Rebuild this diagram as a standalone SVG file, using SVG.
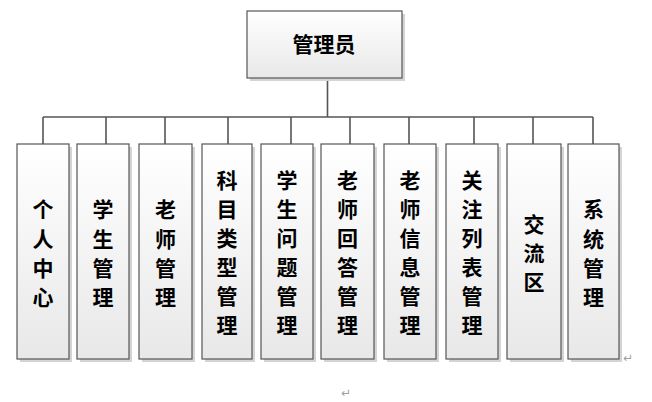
<svg xmlns="http://www.w3.org/2000/svg" width="652" height="402" viewBox="0 0 652 402">
<defs>
<linearGradient id="g" x1="0" y1="0" x2="0" y2="1">
<stop offset="0" stop-color="#ffffff"/>
<stop offset="1" stop-color="#e8e8e8"/>
</linearGradient>
<style>
.box{fill:url(#g);stroke:#555;stroke-width:1.2}
.sh{fill:#d4d4d4}
.t{font-family:"Noto Sans CJK SC","Noto Sans CJK JP",sans-serif;font-weight:bold;font-size:21px;fill:#000;text-anchor:middle;dominant-baseline:central}
.c{fill:none;stroke:#555;stroke-width:1.6}
.m{font-family:"DejaVu Sans",sans-serif;font-size:12px;fill:#a0a0a0}
</style>
</defs>
<rect width="652" height="402" fill="#fff"/>
<g id="connectors">
<path class="c" d="M327.5 78V117M43 117H593M43 117V144M106 117V144M165 117V144M228 117V144M291 117V144M350 117V144M409 117V144M474 117V144M533 117V144M593 117V144"/>
</g>
<g id="root">
<rect class="sh" x="250" y="14" width="155" height="67"/>
<rect class="box" x="247" y="11" width="155" height="67"/>
<text class="t" x="324" y="43" font-size="22">管理员</text>
</g>
<g id="n1">
<rect class="sh" x="20" y="147" width="52" height="215"/>
<rect class="box" x="17" y="144" width="52" height="215"/>
<text class="t" x="43"><tspan x="43" y="208">个</tspan><tspan x="43" y="237.5">人</tspan><tspan x="43" y="267">中</tspan><tspan x="43" y="296">心</tspan></text>
</g>
<g id="n2">
<rect class="sh" x="80" y="147" width="52" height="215"/>
<rect class="box" x="77" y="144" width="52" height="215"/>
<text class="t"><tspan x="103" y="208">学</tspan><tspan x="103" y="237.5">生</tspan><tspan x="103" y="267">管</tspan><tspan x="103" y="296">理</tspan></text>
</g>
<g id="n3">
<rect class="sh" x="142" y="147" width="53" height="215"/>
<rect class="box" x="139" y="144" width="53" height="215"/>
<text class="t"><tspan x="165.5" y="208">老</tspan><tspan x="165.5" y="237.5">师</tspan><tspan x="165.5" y="267">管</tspan><tspan x="165.5" y="296">理</tspan></text>
</g>
<g id="n4">
<rect class="sh" x="205" y="147" width="50" height="215"/>
<rect class="box" x="202" y="144" width="50" height="215"/>
<text class="t"><tspan x="227" y="179">科</tspan><tspan x="227" y="208">目</tspan><tspan x="227" y="237">类</tspan><tspan x="227" y="266">型</tspan><tspan x="227" y="295">管</tspan><tspan x="227" y="324">理</tspan></text>
</g>
<g id="n5">
<rect class="sh" x="264" y="147" width="52" height="215"/>
<rect class="box" x="261" y="144" width="52" height="215"/>
<text class="t"><tspan x="287" y="179">学</tspan><tspan x="287" y="208">生</tspan><tspan x="287" y="237">问</tspan><tspan x="287" y="266">题</tspan><tspan x="287" y="295">管</tspan><tspan x="287" y="324">理</tspan></text>
</g>
<g id="n6">
<rect class="sh" x="324" y="147" width="53" height="215"/>
<rect class="box" x="321" y="144" width="53" height="215"/>
<text class="t"><tspan x="347.5" y="179">老</tspan><tspan x="347.5" y="208">师</tspan><tspan x="347.5" y="237">回</tspan><tspan x="347.5" y="266">答</tspan><tspan x="347.5" y="295">管</tspan><tspan x="347.5" y="324">理</tspan></text>
</g>
<g id="n7">
<rect class="sh" x="387" y="147" width="52" height="215"/>
<rect class="box" x="384" y="144" width="52" height="215"/>
<text class="t"><tspan x="410" y="179">老</tspan><tspan x="410" y="208">师</tspan><tspan x="410" y="237">信</tspan><tspan x="410" y="266">息</tspan><tspan x="410" y="295">管</tspan><tspan x="410" y="324">理</tspan></text>
</g>
<g id="n8">
<rect class="sh" x="449" y="147" width="52" height="215"/>
<rect class="box" x="446" y="144" width="52" height="215"/>
<text class="t"><tspan x="472" y="179">关</tspan><tspan x="472" y="208">注</tspan><tspan x="472" y="237">列</tspan><tspan x="472" y="266">表</tspan><tspan x="472" y="295">管</tspan><tspan x="472" y="324">理</tspan></text>
</g>
<g id="n9">
<rect class="sh" x="510" y="147" width="54" height="215"/>
<rect class="box" x="507" y="144" width="54" height="215"/>
<text class="t"><tspan x="534" y="223">交</tspan><tspan x="534" y="252">流</tspan><tspan x="534" y="281">区</tspan></text>
</g>
<g id="n10">
<rect class="sh" x="571" y="147" width="51" height="215"/>
<rect class="box" x="568" y="144" width="51" height="215"/>
<text class="t"><tspan x="593.5" y="208">系</tspan><tspan x="593.5" y="237.5">统</tspan><tspan x="593.5" y="267">管</tspan><tspan x="593.5" y="296">理</tspan></text>
</g>
<text class="m" x="623" y="362">↵</text>
<text class="m" x="341" y="397">↵</text>
</svg>
